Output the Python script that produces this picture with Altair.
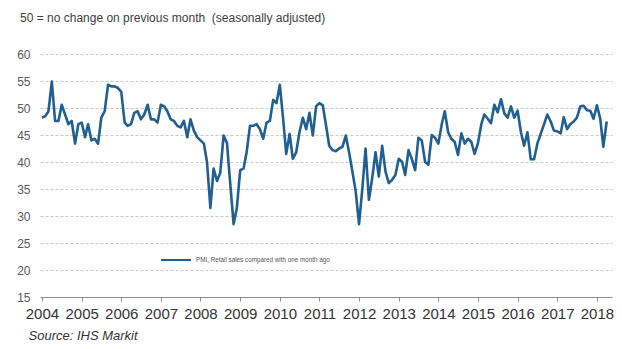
import altair as alt
import pandas as pd

START = "2004-01-01"
values = [
    48.2, 48.5, 49.4, 54.9, 47.6, 47.6, 50.6, 48.8, 47.0, 47.6, 43.4, 47.0,
    47.3, 44.6, 47.0, 44.0, 44.3, 43.4, 48.2, 49.4, 54.3, 54.0, 54.0, 53.7,
    53.0, 47.3, 46.7, 47.0, 49.1, 49.4, 47.9, 48.8, 50.6, 47.9, 47.9, 47.3,
    50.6, 50.3, 49.4, 47.9, 47.6, 46.7, 46.4, 47.6, 44.6, 47.9, 45.8, 44.6,
    44.0, 43.4, 40.0, 31.5, 38.8, 36.5, 38.0, 44.9, 43.5, 36.0, 28.5, 31.5,
    38.5, 38.8, 41.8, 46.7, 46.7, 47.0, 46.1, 44.3, 47.3, 47.6, 51.5, 50.9,
    54.3, 47.9, 41.5, 45.2, 40.6, 41.8, 45.5, 48.2, 46.1, 49.1, 44.9, 50.3,
    50.9, 50.5, 47.0, 43.0, 42.2, 42.0, 42.5, 42.8, 44.9, 41.8, 38.2, 34.6,
    28.5, 35.2, 42.5, 33.0, 37.0, 41.8, 37.3, 43.0, 38.2, 36.1, 36.7, 37.6,
    40.6, 40.0, 37.6, 42.2, 40.6, 38.5, 44.5, 44.0, 40.0, 39.5, 45.0, 44.5,
    43.4, 47.0, 49.4, 45.5, 44.3, 43.7, 41.3, 45.3, 43.4, 44.3, 43.7, 41.5,
    43.5, 47.0, 48.8, 48.0, 47.2, 50.6, 49.2, 51.6, 49.0, 48.2, 50.3, 48.2,
    49.5, 45.5, 43.0, 45.5, 40.5, 40.5, 43.4, 45.2, 47.0, 48.8, 47.5, 45.8,
    45.7, 45.3, 48.3, 46.1, 47.0, 47.5, 48.2, 50.3, 50.4, 49.6, 49.5, 48.0,
    50.5, 48.0, 42.8, 47.5,
]
series_name = "PMI, Retail sales compared with one month ago"
y_ticks = [15, 20, 25, 30, 35, 40, 45, 50, 55, 60]
title_text = "50 = no change on previous month \u00a0(seasonally adjusted)"
source_text = "Source: IHS Markit"

dates = pd.date_range(START, periods=len(values), freq="MS")
df = pd.DataFrame({"date": dates, "value": values, "series": series_name})

FONT = "Liberation Sans"

chart = (
    alt.Chart(df)
    .mark_line(strokeWidth=2.6, strokeJoin="round")
    .encode(
        x=alt.X(
            "date:T",
            scale=alt.Scale(domain=["2003-12-14", "2018-05-20"]),
            axis=alt.Axis(
                values=[f"{y}-01-01" for y in range(2004, 2019)],
                format="%Y",
                grid=False,
                domainColor="#8c8c8c",
                tickColor="#8c8c8c",
                tickSize=4,
                labelPadding=5,
                labelFontSize=15,
                labelColor="#333333",
                labelFont=FONT,
                title=source_text,
                titleFont=FONT,
                titleFontSize=13,
                titleFontStyle="italic",
                titleFontWeight="normal",
                titleColor="#333333",
                titleAnchor="start",
                titleAlign="left",
                titleBaseline="top",
                titleX=-12,
                titleY=32,
                labelOverlap=False,
            ),
        ),
        y=alt.Y(
            "value:Q",
            scale=alt.Scale(domain=[15, 60], nice=False, zero=False),
            axis=alt.Axis(
                values=y_ticks,
                grid=True,
                gridDash=[3, 2],
                gridColor="#c8c8c8",
                domain=False,
                ticks=False,
                labelPadding=10,
                labelFontSize=12,
                labelColor="#595959",
                labelFont=FONT,
                title=None,
            ),
        ),
        color=alt.Color(
            "series:N",
            scale=alt.Scale(range=["#215f91"]),
            legend=alt.Legend(
                title=None,
                orient="none",
                legendX=120,
                legendY=190,
                symbolType="stroke",
                symbolSize=900,
                symbolStrokeWidth=2,
                labelFontSize=6.3,
                labelColor="#555555",
                labelFont=FONT,
                padding=0,
            ),
        ),
    )
    .properties(
        width=572,
        height=243,
        padding={"left": 40, "top": 54, "right": 10, "bottom": 52},
        autosize=alt.AutoSizeParams(type="none"),
        title=alt.TitleParams(
            text=title_text,
            anchor="start",
            frame="group",
            dx=-20,
            offset=23,
            font=FONT,
            fontSize=12,
            fontWeight="normal",
            color="#404040",
        ),
    )
    .configure_view(stroke=None)
)

chart.save("out.html", embed_options={"renderer": "svg", "actions": False})
